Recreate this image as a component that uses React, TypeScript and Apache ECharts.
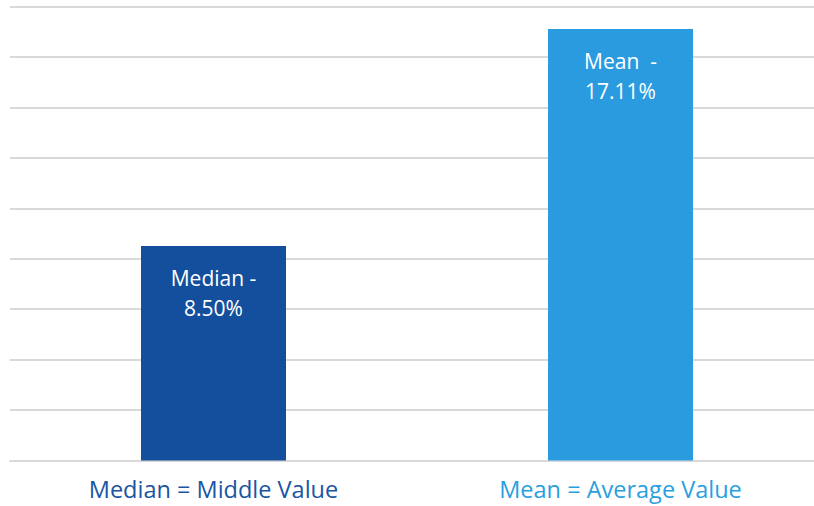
import React, { useEffect, useRef } from "react";
import * as echarts from "echarts";

const categories = ["Median = Middle Value", "Mean = Average Value"];
const values = [8.5, 17.11];
const barLabels = ["Median -\n8.50%", "Mean  -\n17.11%"];
const barColors = ["#134f9c", "#2b9be0"];
const axisLabelColors = ["#1a55a3", "#2a9fdf"];

export default function App() {
  const ref = useRef<HTMLDivElement>(null);
  useEffect(() => {
    const chart = echarts.init(ref.current!, null, { renderer: "svg" });
    chart.setOption({
      animation: false,
      backgroundColor: "#ffffff",
      grid: { left: 10, right: 0, top: 6.5, bottom: 45.5 },
      xAxis: {
        type: "category",
        data: categories,
        axisTick: { show: false },
        axisLine: { lineStyle: { color: "#d9d9d9", width: 2 } },
        axisLabel: {
          margin: 16,
          fontSize: 23.5,
          fontFamily: "Open Sans",
          color: (v: string, i: number) => axisLabelColors[i],
        },
      },
      yAxis: {
        type: "value",
        min: 0,
        max: 18,
        interval: 2,
        axisLabel: { show: false },
        axisLine: { show: false },
        axisTick: { show: false },
        splitLine: { lineStyle: { color: "#d9d9d9", width: 2 } },
      },
      series: [
        {
          type: "bar",
          barWidth: 145,
          data: values.map((v, i) => ({
            value: v,
            itemStyle: { color: barColors[i] },
            label: { formatter: barLabels[i] },
          })),
          label: {
            show: true,
            position: "insideTop",
            distance: 17,
            color: "#ffffff",
            fontSize: 21,
            lineHeight: 30,
            fontFamily: "Open Sans",
          },
        },
      ],
    });
    return () => chart.dispose();
  }, []);
  return (
    <div
      style={{
        position: "absolute",
        left: 0,
        top: 0,
        width: 814,
        height: 506,
        overflow: "hidden",
        background: "#ffffff",
      }}
    >
      <div ref={ref} style={{ width: 824, height: 506 }} />
    </div>
  );
}
